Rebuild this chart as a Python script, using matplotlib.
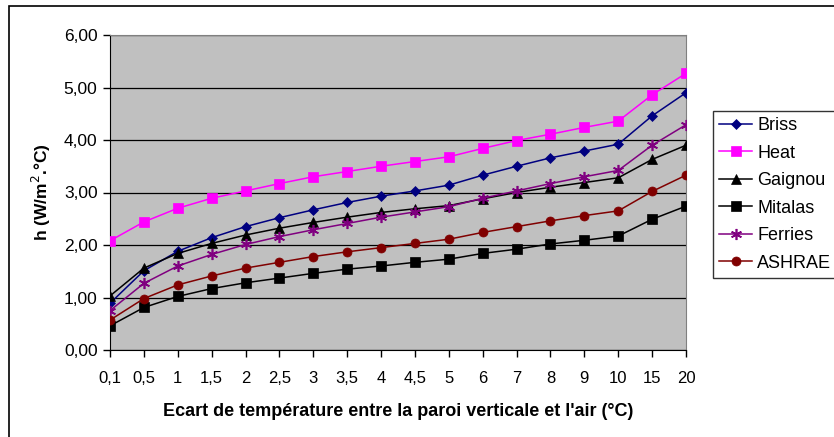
import matplotlib.pyplot as plt
from matplotlib.patches import Rectangle

categories = ["0,1", "0,5", "1", "1,5", "2", "2,5", "3", "3,5", "4", "4,5",
              "5", "6", "7", "8", "9", "10", "15", "20"]

briss = [0.89, 1.51, 1.88, 2.14, 2.35, 2.52, 2.67, 2.81, 2.93, 3.03,
         3.14, 3.33, 3.50, 3.66, 3.79, 3.92, 4.46, 4.90]
heat = [2.08, 2.44, 2.70, 2.89, 3.03, 3.17, 3.30, 3.40, 3.50, 3.59,
        3.68, 3.84, 3.99, 4.11, 4.24, 4.36, 4.86, 5.27]
gaignou = [1.03, 1.56, 1.84, 2.03, 2.19, 2.32, 2.43, 2.53, 2.62, 2.69,
           2.75, 2.88, 3.00, 3.10, 3.19, 3.28, 3.63, 3.90]
mitalas = [0.46, 0.81, 1.02, 1.17, 1.28, 1.37, 1.46, 1.54, 1.60, 1.67,
           1.73, 1.84, 1.92, 2.02, 2.09, 2.17, 2.49, 2.74]
ferries = [0.75, 1.27, 1.60, 1.82, 2.01, 2.16, 2.29, 2.41, 2.53, 2.63,
           2.73, 2.89, 3.03, 3.17, 3.30, 3.42, 3.90, 4.29]
ashrae = [0.57, 0.98, 1.24, 1.41, 1.56, 1.67, 1.78, 1.87, 1.95, 2.03,
          2.11, 2.24, 2.35, 2.46, 2.56, 2.65, 3.02, 3.33]

series = [
    ("Briss", briss, "#000080", "D", 5),
    ("Heat", heat, "#FF00FF", "s", 6.5),
    ("Gaignou", gaignou, "#000000", "^", 7),
    ("Mitalas", mitalas, "#000000", "s", 6.5),
    ("Ferries", ferries, "#800080", (6, 2, 0), 8),
    ("ASHRAE", ashrae, "#800000", "o", 6.5),
]

plt.rcParams["font.family"] = ["Liberation Sans", "DejaVu Sans"]

fig = plt.figure(figsize=(8.34, 4.37), dpi=100)
ax = fig.add_axes([110 / 834, 1 - 350 / 437, 576 / 834, 315 / 437])
ax.set_facecolor("#C0C0C0")

x = list(range(len(categories)))
for name, vals, color, marker, ms in series:
    ax.plot(x, vals, color=color, marker=marker, markersize=ms, linewidth=1.1,
            markeredgewidth=1.2 if marker == (6, 2, 0) else 0.5,
            markeredgecolor=color, label=name, zorder=3)

ax.set_xlim(0, len(categories) - 1)
ax.set_ylim(0, 6)
ax.set_yticks([0, 1, 2, 3, 4, 5, 6])
ax.set_yticklabels(["0,00", "1,00", "2,00", "3,00", "4,00", "5,00", "6,00"], fontsize=12.5)
ax.set_xticks(x)
ax.set_xticklabels(categories, fontsize=12)
ax.tick_params(axis="both", direction="out", length=5, width=1, color="black")
ax.tick_params(axis="x", pad=10)
ax.tick_params(axis="y", pad=4)
ax.grid(axis="y", color="black", linewidth=0.9)
ax.set_axisbelow(True)

for side in ["top", "right"]:
    ax.spines[side].set_color("#808080")
for side in ["left", "bottom"]:
    ax.spines[side].set_color("black")

ax.set_ylabel("h (W/m$^2$.°C)", fontsize=12.5, fontweight="bold", labelpad=8)
ax.set_xlabel("Ecart de température entre la paroi verticale et l'air (°C)",
              fontsize=13, fontweight="bold", labelpad=12)

leg = ax.legend(loc="upper left", bbox_to_anchor=(713 / 834, 1 - 111 / 437),
                bbox_transform=fig.transFigure, fontsize=13, frameon=True,
                fancybox=False, edgecolor="black", borderpad=0.35,
                labelspacing=0.58, handlelength=1.8, handletextpad=0.3,
                borderaxespad=0)
leg.get_frame().set_linewidth(1.0)

fig.patches.append(Rectangle((9 / 834, -0.05), 1.0, 1.05 - 6 / 437,
                             transform=fig.transFigure, fill=False,
                             edgecolor="black", linewidth=1.2))

fig.savefig("out.png", dpi=100)
